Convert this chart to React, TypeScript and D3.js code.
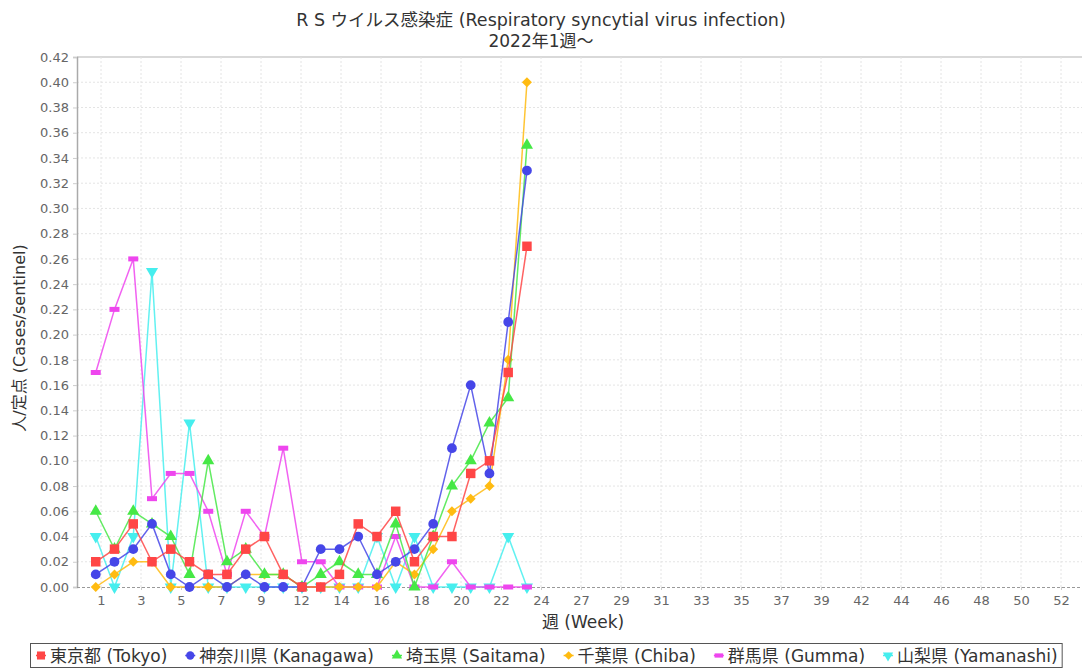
import React, { useEffect, useRef } from 'react';
import * as d3 from 'd3';

// weeks of 2022 with reported data
const weeks = [1, 2, 3, 4, 5, 6, 7, 8, 9, 10, 11, 12, 13, 14, 15, 16, 17, 18, 19, 20, 21, 22, 23, 24];

const tokyo = [0.02, 0.03, 0.05, 0.02, 0.03, 0.02, 0.01, 0.01, 0.03, 0.04, 0.01, 0.0, 0.0, 0.01, 0.05, 0.04, 0.06, 0.02, 0.04, 0.04, 0.09, 0.1, 0.17, 0.27];
const kanagawa = [0.01, 0.02, 0.03, 0.05, 0.01, 0.0, 0.01, 0.0, 0.01, 0.0, 0.0, 0.0, 0.03, 0.03, 0.04, 0.01, 0.02, 0.03, 0.05, 0.11, 0.16, 0.09, 0.21, 0.33];
const saitama = [0.06, 0.03, 0.06, 0.05, 0.04, 0.01, 0.1, 0.02, 0.03, 0.01, 0.01, 0.0, 0.01, 0.02, 0.01, 0.01, 0.05, 0.0, 0.04, 0.08, 0.1, 0.13, 0.15, 0.35];
const chiba = [0.0, 0.01, 0.02, 0.02, 0.0, 0.0, 0.0, 0.0, 0.01, 0.01, 0.01, 0.0, 0.0, 0.0, 0.0, 0.0, 0.02, 0.01, 0.03, 0.06, 0.07, 0.08, 0.18, 0.4];
const gumma = [0.17, 0.22, 0.26, 0.07, 0.09, 0.09, 0.06, 0.01, 0.06, 0.04, 0.11, 0.02, 0.02, 0.0, 0.0, 0.0, 0.04, 0.0, 0.0, 0.02, 0.0, 0.0, 0.0, 0.0];
const yamanashi = [0.04, 0.0, 0.04, 0.25, 0.0, 0.13, 0.0, 0.0, 0.0, 0.0, 0.0, 0.0, 0.0, 0.0, 0.0, 0.04, 0.0, 0.04, 0.0, 0.0, 0.0, 0.0, 0.04, 0.0];

const seriesNames = ['東京都 (Tokyo)', '神奈川県 (Kanagawa)', '埼玉県 (Saitama)', '千葉県 (Chiba)', '群馬県 (Gumma)', '山梨県 (Yamanashi)'];
const seriesValues = [tokyo, kanagawa, saitama, chiba, gumma, yamanashi];

const xTickLabels = ['1', '3', '5', '7', '9', '12', '14', '16', '18', '20', '22', '24', '27', '29', '31', '33', '35', '37', '39', '42', '44', '46', '48', '50', '52'];
const yTicks = [0, 0.02, 0.04, 0.06, 0.08, 0.1, 0.12, 0.14, 0.16, 0.18, 0.2, 0.22, 0.24, 0.26, 0.28, 0.3, 0.32, 0.34, 0.36, 0.38, 0.4, 0.42];

const colors = ['#ff4646', '#4646e8', '#46e846', '#ffbb11', '#ee46ee', '#46eeee'];
const shapes = ['square', 'circle', 'triangle', 'diamond', 'bar', 'triangleDown'];

const W = 1082;
const H = 669;
const FONT = '"DejaVu Sans", Verdana, sans-serif';
const JP_FONT = '"DejaVu Sans", "Noto Sans CJK JP", sans-serif';

function markerPath(shape: string): { d: string; rotate: number } {
  switch (shape) {
    case 'square':
      return { d: d3.symbol().type(d3.symbolSquare).size(90)()!, rotate: 0 };
    case 'circle':
      return { d: d3.symbol().type(d3.symbolCircle).size(75)()!, rotate: 0 };
    case 'triangle':
      return { d: d3.symbol().type(d3.symbolTriangle).size(64)()!, rotate: 0 };
    case 'triangleDown':
      return { d: d3.symbol().type(d3.symbolTriangle).size(64)()!, rotate: 180 };
    case 'diamond':
      return { d: d3.symbol().type(d3.symbolSquare).size(50)()!, rotate: 45 };
    default:
      return { d: 'M-5,-2.5H5V2.5H-5Z', rotate: 0 };
  }
}

const App: React.FC = () => {
  const svgRef = useRef<SVGSVGElement>(null);

  useEffect(() => {
    if (!svgRef.current) return;
    document.body.style.margin = '0';
    const svg = d3.select(svgRef.current);
    svg.selectAll('*').remove();

    const left = 77, right = 1080, top = 57, bottom = 587;

    const x = d3.scaleLinear().domain([0, 53.5]).range([left, right]);
    const y = d3.scaleLinear().domain([0, 0.42]).range([bottom, top]);
    const xTick = d3.scalePoint<string>().domain(xTickLabels).range([left + 24, left + 984]);

    // background
    svg.append('rect').attr('width', W).attr('height', H).attr('fill', '#fff');

    // title, two lines
    svg.append('text')
      .attr('x', W / 2).attr('y', 26)
      .attr('text-anchor', 'middle')
      .attr('font-family', JP_FONT)
      .attr('font-size', 17.5)
      .attr('fill', '#333')
      .text('R S ウイルス感染症 (Respiratory syncytial virus infection)');
    svg.append('text')
      .attr('x', W / 2).attr('y', 47)
      .attr('text-anchor', 'middle')
      .attr('font-family', JP_FONT)
      .attr('font-size', 17)
      .attr('fill', '#333')
      .text('2022年1週～');

    // grid
    const grid = svg.append('g');
    grid.selectAll('line.h')
      .data(yTicks.slice(1))
      .enter()
      .append('line')
      .attr('x1', left).attr('x2', W)
      .attr('y1', d => y(d)).attr('y2', d => y(d))
      .attr('stroke', d => (d === 0.42 ? '#cccccc' : '#e4e4e4'))
      .attr('stroke-width', d => (d === 0.42 ? 1.5 : 1))
      .attr('stroke-dasharray', d => (d === 0.42 ? null : '2,2'));
    grid.selectAll('line.v')
      .data(xTickLabels)
      .enter()
      .append('line')
      .attr('x1', d => xTick(d)!).attr('x2', d => xTick(d)!)
      .attr('y1', top).attr('y2', bottom)
      .attr('stroke', '#e4e4e4')
      .attr('stroke-dasharray', '2,2');

    // y axis
    const yAxis = svg.append('g')
      .attr('transform', `translate(${left},0)`)
      .call(d3.axisLeft(y).tickValues(yTicks).tickFormat(d3.format('.2f')).tickSize(4).tickPadding(4));
    yAxis.select('.domain').attr('stroke', '#aaaaaa').attr('stroke-width', 1.5);
    yAxis.selectAll('.tick line').attr('stroke', '#cccccc');
    yAxis.selectAll('.tick text')
      .attr('font-family', FONT)
      .attr('font-size', 13)
      .attr('fill', '#666');

    // x axis
    const xAxis = svg.append('g')
      .attr('transform', `translate(0,${bottom})`)
      .call(d3.axisBottom(xTick).tickSize(3).tickPadding(6));
    xAxis.select('.domain').attr('stroke', '#999').attr('stroke-dasharray', '3,2').attr('d', `M${left},0.5H${W}`);
    xAxis.selectAll('.tick line').attr('stroke', '#cccccc');
    xAxis.selectAll('.tick text')
      .attr('font-family', FONT)
      .attr('font-size', 13)
      .attr('fill', '#666');

    // axis titles
    svg.append('text')
      .attr('x', 583).attr('y', 628)
      .attr('text-anchor', 'middle')
      .attr('font-family', JP_FONT)
      .attr('font-size', 17)
      .attr('fill', '#333')
      .text('週 (Week)');
    svg.append('text')
      .attr('transform', `translate(25,${(top + bottom) / 2 + 16}) rotate(-90)`)
      .attr('text-anchor', 'middle')
      .attr('font-family', JP_FONT)
      .attr('font-size', 16)
      .attr('fill', '#333')
      .text('人/定点 (Cases/sentinel)');

    // series, first series drawn last so it sits on top
    const line = d3.line<number>().x((_, i) => x(weeks[i])).y(d => y(d));
    const order = d3.range(seriesValues.length).reverse();
    order.forEach(si => {
      const g = svg.append('g');
      g.append('path')
        .attr('d', line(seriesValues[si]))
        .attr('fill', 'none')
        .attr('stroke', colors[si])
        .attr('stroke-width', 1.5)
        .attr('stroke-opacity', 0.85);
      const m = markerPath(shapes[si]);
      g.selectAll('path.m')
        .data(seriesValues[si])
        .enter()
        .append('path')
        .attr('d', m.d)
        .attr('transform', (d, i) => `translate(${x(weeks[i])},${y(d)}) rotate(${m.rotate})`)
        .attr('fill', colors[si]);
    });

    // legend
    const legend = svg.append('g');
    const box = legend.append('rect')
      .attr('x', 30.5).attr('y', 643.5).attr('height', 24)
      .attr('fill', '#fff').attr('stroke', '#555');
    let cx = 36;
    seriesNames.forEach((name, si) => {
      const item = legend.append('g').attr('transform', `translate(${cx},655.5)`);
      item.append('line').attr('x1', 0).attr('x2', 10).attr('stroke', colors[si]).attr('stroke-width', 1.5);
      const m = markerPath(shapes[si]);
      item.append('path').attr('d', m.d).attr('transform', `translate(5,0) rotate(${m.rotate}) scale(0.85)`).attr('fill', colors[si]);
      const t = item.append('text')
        .attr('x', 14).attr('y', 6)
        .attr('font-family', JP_FONT)
        .attr('font-size', 17)
        .attr('fill', '#333')
        .text(name);
      const len = (t.node() as SVGTextElement).getComputedTextLength();
      cx += 14 + len + 18;
    });
    box.attr('width', cx - 30 - 14);
  }, []);

  return (
    <div style={{ position: 'absolute', left: 0, top: 0 }}>
      <svg ref={svgRef} width={W} height={H} style={{ display: 'block' }} />
    </div>
  );
};

export default App;
